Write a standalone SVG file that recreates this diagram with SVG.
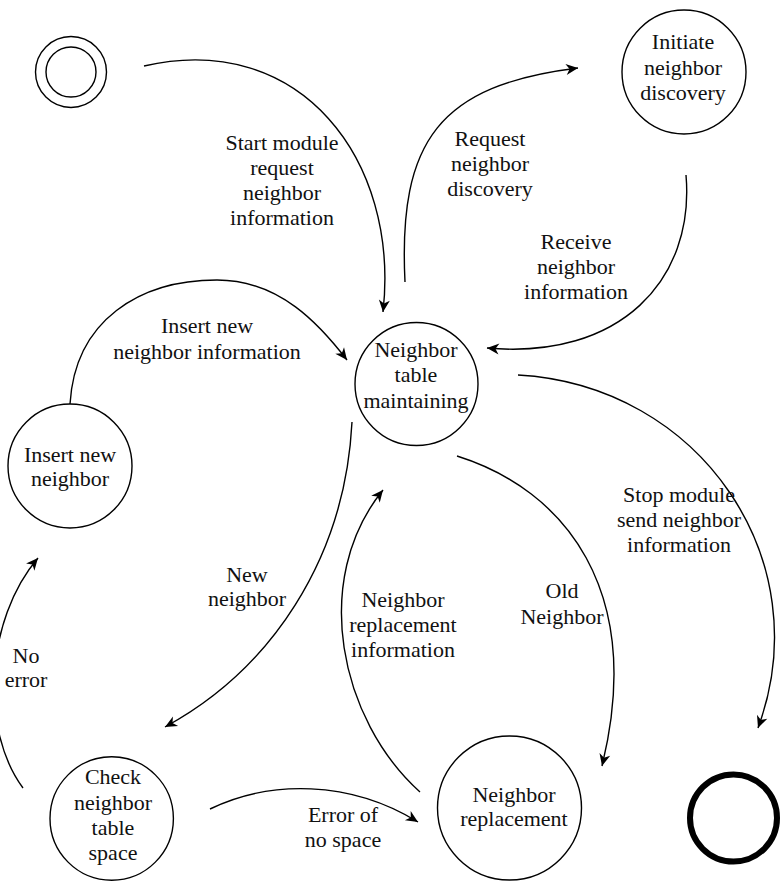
<svg xmlns="http://www.w3.org/2000/svg" width="781" height="881" viewBox="0 0 781 881">
<style>
.n{fill:none;stroke:#000;stroke-width:1.4}
.c{fill:none;stroke:#000;stroke-width:1.4}
.a{marker-end:url(#ah)}
text{font-family:"Liberation Serif","Times New Roman",serif;font-size:22px;fill:#111;text-anchor:middle}
</style>
<defs>
<marker id="ah" viewBox="-13 -7 14 14" refX="0" refY="0" markerWidth="14" markerHeight="14" markerUnits="userSpaceOnUse" orient="auto">
<path d="M0,0 L-12,-5.5 L-8.5,0 L-12,5.5 Z" fill="#000"/>
</marker>
</defs>
<rect width="781" height="881" fill="#fff"/>
<g id="start">
<circle class="n" cx="71" cy="72" r="35.5"/>
<circle class="n" cx="71" cy="72" r="25"/>
</g>
<g id="initiate">
<circle class="n" cx="684" cy="72" r="62"/>
<text x="683" y="49">Initiate</text>
<text x="683" y="75">neighbor</text>
<text x="683" y="100">discovery</text>
</g>
<g id="table">
<circle class="n" cx="416.5" cy="384" r="61.5"/>
<text x="416" y="357">Neighbor</text>
<text x="416" y="382">table</text>
<text x="416" y="408">maintaining</text>
</g>
<g id="insert">
<circle class="n" cx="70" cy="466" r="62"/>
<text x="70" y="462">Insert new</text>
<text x="70" y="486">neighbor</text>
</g>
<g id="check">
<circle class="n" cx="111.7" cy="818.5" r="61.7"/>
<text x="113" y="784">Check</text>
<text x="113" y="810">neighbor</text>
<text x="113" y="835">table</text>
<text x="113" y="860">space</text>
</g>
<g id="replacement">
<circle class="n" cx="509.5" cy="808" r="72"/>
<text x="514" y="802">Neighbor</text>
<text x="514" y="826">replacement</text>
</g>
<g id="end">
<circle cx="733.5" cy="818" r="43.5" fill="none" stroke="#000" stroke-width="6"/>
</g>
<g id="connectors">
<path class="c a" d="M144,66 C300,30 400,160 383,312"/>
<path class="c a" d="M405,282 C398,140 440,85 578,68"/>
<path class="c a" d="M686,175 C695,280 620,360 487,348"/>
<path class="c a" d="M70,404 C75,320 140,280 217,280 C280,280 320,325 347,360"/>
<path class="c a" d="M352,422 C345,560 270,670 165,727"/>
<path class="c a" d="M420,792 C340,720 310,580 383,490"/>
<path class="c a" d="M457,456 C565,490 645,590 602,766"/>
<path class="c a" d="M518,375 C700,385 820,560 758,728"/>
<path class="c a" d="M23,788 C-20,730 -15,620 38,558"/>
<path class="c a" d="M210,809 C270,780 350,780 418,822"/>
</g>
<g id="labels">
<text x="282" y="150">Start module</text>
<text x="282" y="175">request</text>
<text x="282" y="200">neighbor</text>
<text x="282" y="225">information</text>
<text x="490" y="146">Request</text>
<text x="490" y="171">neighbor</text>
<text x="490" y="196">discovery</text>
<text x="576" y="249">Receive</text>
<text x="576" y="274">neighbor</text>
<text x="576" y="299">information</text>
<text x="207" y="333">Insert new</text>
<text x="207" y="359">neighbor information</text>
<text x="247" y="582">New</text>
<text x="247" y="606">neighbor</text>
<text x="403" y="607">Neighbor</text>
<text x="403" y="632">replacement</text>
<text x="403" y="657">information</text>
<text x="562" y="598">Old</text>
<text x="562" y="624">Neighbor</text>
<text x="679" y="502">Stop module</text>
<text x="679" y="527">send neighbor</text>
<text x="679" y="552">information</text>
<text x="26" y="663">No</text>
<text x="26" y="687">error</text>
<text x="343" y="822">Error of</text>
<text x="343" y="847">no space</text>
</g>
</svg>
